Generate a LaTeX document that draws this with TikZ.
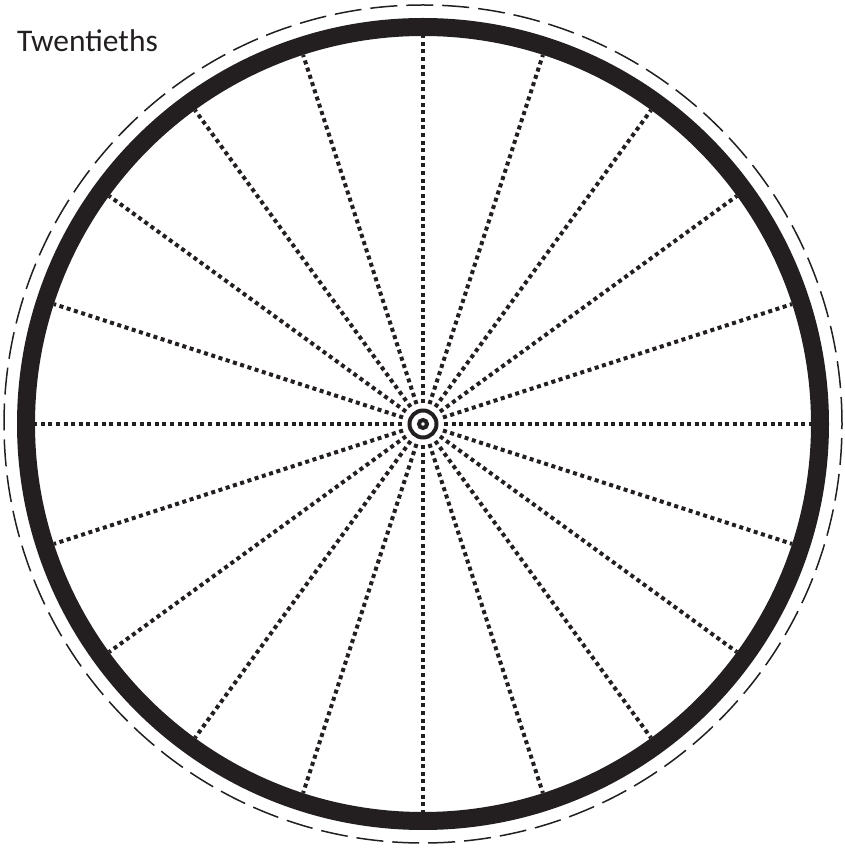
\documentclass[tikz,border=0pt]{standalone}
\usepackage{fontspec}
\setmainfont{Carlito}
\usetikzlibrary{positioning,calc}
\definecolor{Ink}{HTML}{231F20}
\tikzset{
  rim/.style={draw=Ink,line width=18pt},
  tyre/.style={draw=Ink,line width=1.5pt,dash pattern=on 27pt off 9pt},
  spoke/.style={draw=Ink,line width=4pt,dash pattern=on 4pt off 3.6pt},
  hubring/.style={draw=Ink,line width=4pt},
  caption/.style={font=\fontsize{31.5}{38}\selectfont,text=Ink,anchor=base west,inner sep=0pt}
}
\begin{document}
\begin{tikzpicture}[x=1pt,y=1pt]
    \useasboundingbox (0,0) rectangle (844,849);
    \coordinate (hub) at (423,425);
    \draw[tyre] (hub) circle[radius=419];
    \draw[rim] (hub) circle[radius=397];
    \foreach \a in {0,18,...,342}
      \draw[spoke] ($(hub)+(\a:21)$) -- ($(hub)+(\a:388)$);
    \draw[hubring] (hub) circle[radius=13.5];
    \draw[hubring] (hub) circle[radius=4];
    \node[caption] (title) at (17,797) {Twentieths};
  \end{tikzpicture}
\end{document}
